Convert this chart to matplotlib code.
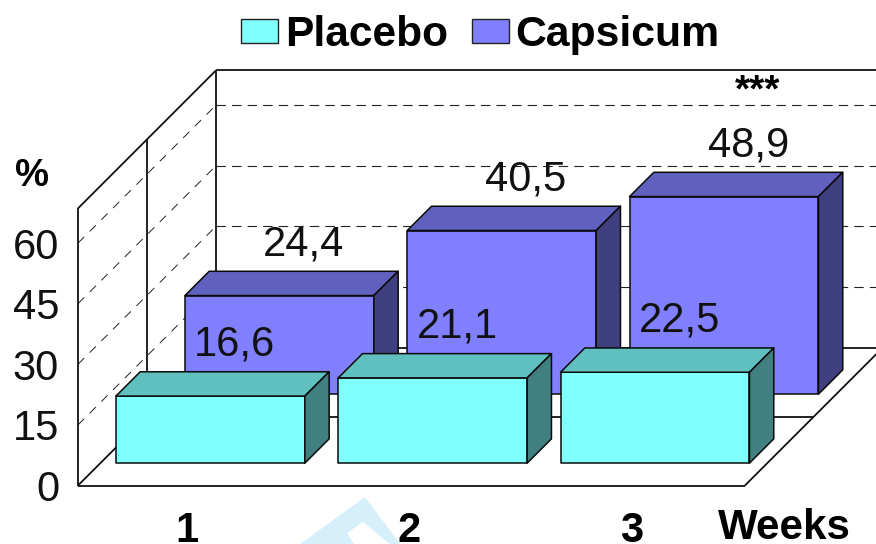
import matplotlib
matplotlib.use("Agg")
import matplotlib.pyplot as plt
from matplotlib.patches import Polygon, Rectangle

plt.rcParams['font.family'] = ['Liberation Sans', 'DejaVu Sans']

weeks = ['1', '2', '3']
placebo = [16.6, 21.1, 22.5]
capsicum = [24.4, 40.5, 48.9]
y_ticks = [0, 15, 30, 45, 60]
y_top = 68.6

# layout of the fake 3d box, in pixels
x0, y0 = 78, 485.5
cat_w = 222.3
px_per_unit = 4.04
slot_d = 69
bar_w = 0.85
bar_gap = 0.07
bar_d = 24.3


def proj(cat, val, d):
    return x0 + cat * cat_w + d, y0 - val * px_per_unit - d


def draw_line(ax, p1, p2, **kw):
    ax.plot([p1[0], p2[0]], [p1[1], p2[1]], color='#111111', solid_capstyle='butt', **kw)


def draw_bar(ax, i, val, slot, front, top, side):
    left = i + bar_gap
    right = left + bar_w
    d1 = slot * slot_d + (slot_d - bar_d) / 2
    d2 = d1 + bar_d
    faces = [
        ([(left, 0, d1), (right, 0, d1), (right, val, d1), (left, val, d1)], front),
        ([(left, val, d1), (right, val, d1), (right, val, d2), (left, val, d2)], top),
        ([(right, 0, d1), (right, 0, d2), (right, val, d2), (right, val, d1)], side),
    ]
    for pts, col in faces:
        ax.add_patch(Polygon([proj(*p) for p in pts], closed=True, facecolor=col,
                             edgecolor='#0a0a0a', linewidth=1.1, joinstyle='round', zorder=3))


fig = plt.figure(figsize=(8.76, 5.44), dpi=100)
ax = fig.add_axes([0, 0, 1, 1])
ax.set_xlim(0, 876)
ax.set_ylim(544, 0)
ax.axis('off')

# watermark behind everything
ax.add_patch(Polygon([(300, 544), (365, 497), (400, 544), (390, 544), (363, 522), (347, 533), (354, 544)],
                     closed=True, facecolor='#d6f0fb', edgecolor='none', zorder=0))

n = len(weeks)
depth = 2 * slot_d

# walls and floor
box = dict(linewidth=1.3, zorder=2)
draw_line(ax, proj(0, 0, 0), proj(0, y_top, 0), **box)
draw_line(ax, proj(0, y_top, 0), proj(0, y_top, depth), **box)
draw_line(ax, proj(0, 0, 0), proj(0, 0, depth), **box)
draw_line(ax, proj(0, 0, depth), proj(0, y_top, depth), **box)
draw_line(ax, proj(0, y_top, depth), proj(n, y_top, depth), **box)
draw_line(ax, proj(0, 0, depth), proj(n, 0, depth), **box)
draw_line(ax, proj(0, 0, 0), proj(n, 0, 0), **box)
draw_line(ax, proj(n, 0, 0), proj(n, 0, depth), **box)
draw_line(ax, proj(0, 0, slot_d), proj(n, 0, slot_d), **box)
draw_line(ax, proj(0, 0, slot_d), proj(0, y_top, slot_d), **box)

# dashed grid
for v in y_ticks[1:]:
    ax.plot(*zip(proj(0, v, 0), proj(0, v, depth)), color='#222222', linewidth=0.7,
            linestyle=(0, (9, 8)), zorder=1)
    ax.plot(*zip(proj(0, v, depth), proj(n, v, depth)), color='#222222', linewidth=0.8,
            linestyle=(0, (8.5, 5.5)), zorder=1)

for i, v in enumerate(capsicum):
    draw_bar(ax, i, v, 1, '#8080ff', '#6060bf', '#404080')
for i, v in enumerate(placebo):
    draw_bar(ax, i, v, 0, '#80ffff', '#60bfbf', '#408080')

# value labels sit above the back top edge of each bar
for slot, vals in enumerate([placebo, capsicum]):
    for i, v in enumerate(vals):
        x, y = proj(i + 0.5, v, (slot + 1) * slot_d - (slot_d - bar_d) / 2)
        ax.text(x - 1, y - 16, str(v).replace('.', ','), fontsize=30, ha='center', va='baseline',
                color='#111111', zorder=5)

ax.text(758, 101, '***', fontsize=28, fontweight='bold', ha='center', va='baseline', color='black', zorder=5)

for v in y_ticks:
    ax.text(59, y0 - v * px_per_unit + 15.5, str(v), fontsize=30, ha='right', va='baseline', color='#111111')
ax.text(32, 186, '%', fontsize=27.5, fontweight='bold', ha='center', va='baseline', color='black')

for i, w in enumerate(weeks):
    ax.text(proj(i + 0.5, 0, 0)[0] - 2, 541.5, w, fontsize=30, fontweight='bold', ha='center',
            va='baseline', color='black')
ax.text(784, 539, 'Weeks', fontsize=30.3, fontweight='bold', ha='center', va='baseline', color='black')

# legend
ax.add_patch(Rectangle((240.5, 18.5), 37, 24.5, facecolor='#80ffff', edgecolor='#222222', linewidth=1))
ax.text(285, 46, 'Placebo', fontsize=30.6, fontweight='bold', ha='left', va='baseline', color='black')
ax.add_patch(Rectangle((471.5, 18.5), 37, 24.5, facecolor='#8080ff', edgecolor='#222222', linewidth=1))
ax.text(515, 46, 'Capsicum', fontsize=30.8, fontweight='bold', ha='left', va='baseline', color='black')

fig.savefig('out.png', dpi=100)
